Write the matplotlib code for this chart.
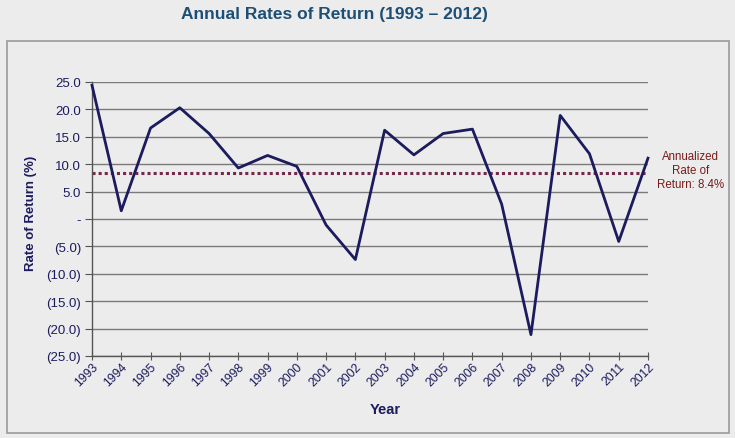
import matplotlib
matplotlib.use("Agg")
import matplotlib.pyplot as plt
from matplotlib.patches import Rectangle
from matplotlib.ticker import FuncFormatter

years = list(range(1993, 2013))
returns = [24.4, 1.5, 16.6, 20.3, 15.6, 9.3, 11.6, 9.6, -1.1, -7.4,
           16.2, 11.7, 15.6, 16.4, 2.7, -21.1, 18.9, 11.9, -4.1, 11.1]
annualized = 8.4
yticks = [25, 20, 15, 10, 5, 0, -5, -10, -15, -20, -25]

plt.rcParams['font.family'] = ['Liberation Sans', 'DejaVu Sans']

bg = '#ececec'
navy = '#1b1b5e'
fig = plt.figure(figsize=(7.35, 4.39), dpi=100, facecolor=bg)
W, H = 735, 439
ax = fig.add_axes([92 / W, (H - 357) / H, (648 - 92) / W, (357 - 83) / H])
ax.set_facecolor(bg)

# outer chart frame
fig.patches.append(Rectangle((7 / W, (H - 434) / H), (729 - 7) / W, (434 - 42) / H,
                             transform=fig.transFigure, fill=False,
                             edgecolor='#9a9a9a', linewidth=1.2, zorder=0))

fig.text(334 / W, 1 - 14 / H, 'Annual Rates of Return (1993 \u2013 2012)',
         ha='center', va='center', fontsize=12.5, fontweight='bold', color='#1d4f76')

ax.set_xlim(years[0], years[-1])
ax.set_ylim(-25, 25)
ax.set_yticks(yticks)

def fmt(v, pos):
    if abs(v) < 1e-9:
        return '-'
    if v < 0:
        return '({:.1f})'.format(-v)
    return '{:.1f}'.format(v)

ax.yaxis.set_major_formatter(FuncFormatter(fmt))
ax.set_xticks(years)
ax.set_xticklabels([str(y) for y in years], rotation=45, ha='right',
                   rotation_mode='anchor')
ax.tick_params(axis='x', direction='inout', length=6, colors='#555555',
               labelcolor=navy, labelsize=8.8, pad=0)
ax.tick_params(axis='y', direction='out', length=5, colors='#555555',
               labelcolor=navy, labelsize=9.5, pad=3)

ax.grid(axis='y', color='#7a7a7a', linewidth=1.0)
ax.set_axisbelow(True)
for s in ['top', 'right']:
    ax.spines[s].set_visible(False)
for s in ['left', 'bottom']:
    ax.spines[s].set_color('#555555')
    ax.spines[s].set_linewidth(1.0)

ax.plot(years, returns, color=navy, linewidth=2.0, clip_on=False, zorder=3)
ax.axhline(annualized, color='#74294a', linewidth=2.2, linestyle=(0, (1, 1)), zorder=2)

ax.text(1.076, (annualized + 25) / 50 + 0.01, 'Annualized\nRate of\nReturn: 8.4%',
        transform=ax.transAxes, ha='center', va='center', fontsize=8.3,
        color='#7a1a1a', linespacing=1.25)

ax.set_ylabel('Rate of Return (%)', fontsize=9.5, fontweight='bold', color=navy)
ax.yaxis.set_label_coords(-(92 - 37) / 556, 0.525)
ax.set_xlabel('Year', fontsize=10.5, fontweight='bold', color=navy)
ax.xaxis.set_label_coords((385 - 92) / 556, -(403 - 357) / 274)

fig.savefig('out.png', dpi=100, facecolor=bg)
